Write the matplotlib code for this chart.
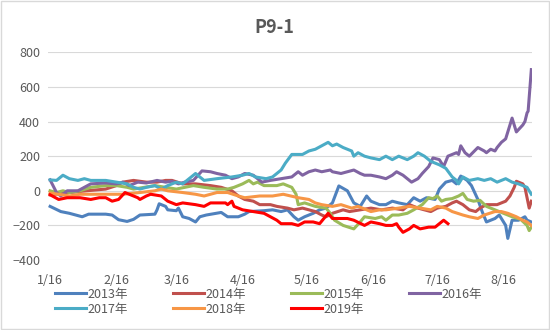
import matplotlib
matplotlib.use("Agg")
import matplotlib.pyplot as plt
from matplotlib.patches import Rectangle

plt.rcParams['font.family'] = ['Noto Sans CJK SC', 'DejaVu Sans']

# days counted from 1/16
tick_days = [0, 31, 59, 90, 120, 151, 181, 212]
tick_labels = ['1/16', '2/16', '3/16', '4/16', '5/16', '6/16', '7/16', '8/16']

d2013 = [0, 5, 9, 15, 18, 26, 29, 32, 36, 39, 42, 49, 50, 51, 54, 55, 59, 60, 62, 65,
         68, 70, 73, 80, 83, 88, 91, 93, 100, 104, 108, 111, 114, 116, 119, 123, 126, 129, 132, 135,
         139, 142, 145, 148, 150, 154, 157, 160, 163, 167, 170, 173, 176, 180, 182, 185, 188, 190, 192, 195,
         197, 200, 202, 204, 208, 210, 213, 214, 216, 219, 222, 223, 225]
v2013 = [-90, -120, -130, -150, -135, -135, -140, -167, -177, -165, -140, -135, -110, -75, -90, -110, -115, -100, -150, -160,
         -180, -150, -140, -125, -150, -150, -135, -120, -115, -110, -120, -110, -150, -170, -150, -130, -110, -100, -70, 28,
         0, -70, -90, -30, -60, -80, -80, -60, -70, -80, -40, -60, -40, -50, 10, 50, 60, 40, 85, 60,
         30, -50, -120, -180, -160, -140, -200, -275, -170, -170, -150, -170, -180]

d2014 = [0, 17, 26, 31, 34, 39, 45, 50, 54, 57, 62, 68, 75, 80, 85, 88, 91, 95, 98, 103,
         106, 111, 114, 118, 121, 124, 127, 129, 132, 137, 140, 145, 150, 155, 160, 165, 168, 172, 175, 178,
         181, 185, 188, 190, 193, 196, 199, 201, 204, 209, 213, 215, 217, 218, 219, 221, 222, 224, 225]
v2014 = [-23, 0, 10, 30, 50, 60, 50, 50, 60, 60, 40, 40, 30, 20, 0, -30, -50, -60, -80, -80,
         -90, -100, -110, -100, -110, -120, -140, -150, -130, -110, -120, -110, -100, -110, -100, -110, -80, -100, -110, -120,
         -100, -90, -70, -60, -80, -110, -120, -100, -80, -80, -60, -30, 20, 55, 50, 40, 20, -100, -60]

d2015 = [0, 3, 6, 9, 14, 19, 26, 31, 36, 39, 44, 49, 54, 59, 63, 67, 72, 78, 83, 86,
         90, 93, 95, 97, 100, 106, 109, 113, 115, 116, 119, 124, 129, 131, 133, 137, 142, 145, 147, 152,
         155, 157, 160, 163, 167, 170, 174, 177, 179, 181, 183, 185, 188, 191, 193, 195, 198, 201, 204, 208,
         212, 216, 220, 223, 224, 225]
v2015 = [0, -10, 0, -10, 0, 20, 30, 30, 20, 10, 20, 30, 20, 10, 20, 30, 20, 10, 10, 20,
         40, 60, 40, 50, 30, 30, 40, 20, -20, -80, -70, -90, -100, -130, -170, -200, -220, -180, -150, -160,
         -150, -170, -140, -140, -130, -110, -80, -40, -45, -30, -60, -50, -45, -30, -15, -50, -60, -55, -90, -110,
         -130, -150, -165, -200, -230, -210]

d2016 = [0, 3, 5, 8, 13, 16, 19, 26, 31, 34, 37, 41, 45, 50, 54, 57, 60, 63, 67, 71,
         75, 78, 82, 85, 88, 91, 95, 99, 103, 108, 113, 116, 118, 121, 124, 127, 131, 132, 136, 139,
         142, 145, 147, 150, 154, 157, 160, 162, 165, 167, 169, 172, 174, 177, 179, 182, 184, 186, 190, 191,
         192, 194, 196, 200, 203, 204, 206, 208, 209, 211, 213, 216, 218, 221, 222, 223, 223.5, 224, 225]
v2016 = [63, -10, -30, 0, 0, 20, 40, 45, 40, 50, 30, 50, 45, 60, 50, 55, 40, 50, 60, 115,
         110, 100, 90, 70, 80, 100, 90, 50, 60, 70, 80, 110, 90, 110, 120, 110, 120, 110, 100, 110,
         120, 100, 90, 90, 80, 70, 90, 110, 90, 70, 50, 70, 100, 140, 190, 180, 140, 200, 220, 210,
         260, 220, 200, 250, 230, 220, 240, 230, 250, 280, 300, 420, 340, 380, 400, 450, 460, 540, 700]

d2017 = [0, 3, 6, 9, 13, 16, 19, 26, 31, 36, 39, 42, 45, 49, 52, 55, 59, 62, 68, 72,
         78, 85, 90, 93, 96, 101, 104, 108, 110, 113, 118, 121, 124, 127, 130, 132, 134, 137, 141, 142,
         144, 147, 150, 154, 157, 160, 163, 167, 170, 172, 175, 178, 182, 185, 188, 190, 191, 193, 196, 200,
         203, 206, 209, 213, 216, 219, 223, 225]
v2017 = [63, 60, 90, 70, 60, 70, 60, 60, 50, 40, 20, 10, 20, 30, 10, 30, 50, 40, 100, 60,
         70, 80, 90, 100, 80, 70, 80, 120, 160, 210, 210, 230, 240, 260, 280, 260, 270, 250, 230, 200,
         220, 200, 190, 180, 200, 180, 200, 180, 200, 220, 200, 170, 150, 130, 80, 60, 40, 80, 60, 70,
         60, 70, 50, 70, 50, 40, 20, -20]

d2018 = [0, 4, 9, 14, 26, 34, 42, 49, 52, 55, 62, 68, 72, 78, 83, 88, 91, 98, 104, 109,
         116, 121, 124, 127, 132, 136, 141, 144, 150, 154, 157, 163, 168, 173, 178, 181, 185, 188, 193, 196,
         200, 203, 208, 211, 214, 218, 221, 223, 225]
v2018 = [-13, -20, -30, -20, -20, -20, -10, 0, 10, 0, -10, -20, -30, -10, -10, -30, -40, -30, -30, -20,
         -40, -50, -70, -80, -90, -80, -100, -90, -120, -110, -110, -100, -90, -100, -110, -90, -100, -120, -140, -150,
         -160, -140, -120, -120, -130, -150, -170, -180, -200]

d2019 = [0, 4, 8, 14, 19, 23, 26, 29, 32, 35, 37, 41, 42, 45, 47, 52, 55, 59, 62, 68,
         72, 75, 82, 83, 85, 86, 90, 95, 100, 103, 106, 108, 113, 116, 119, 123, 126, 130, 132, 139,
         142, 147, 150, 154, 157, 160, 162, 163, 165, 168, 170, 173, 177, 180, 182, 184, 186]
v2019 = [-23, -50, -40, -40, -50, -40, -40, -60, -50, -10, -20, -40, -50, -30, -20, -30, -60, -80, -70, -80,
         -90, -70, -70, -80, -60, -90, -110, -120, -130, -150, -170, -190, -190, -200, -180, -180, -190, -130, -160, -160,
         -170, -200, -180, -190, -200, -200, -190, -210, -240, -220, -200, -220, -210, -210, -190, -170, -190]

series = [
    ('2013年', d2013, v2013, '#4F81BD'),
    ('2014年', d2014, v2014, '#C0504D'),
    ('2015年', d2015, v2015, '#9BBB59'),
    ('2016年', d2016, v2016, '#8064A2'),
    ('2017年', d2017, v2017, '#4BACC6'),
    ('2018年', d2018, v2018, '#F79646'),
    ('2019年', d2019, v2019, '#FF0000'),
]

txt = '#595959'
fig = plt.figure(figsize=(5.5, 3.3), dpi=100)
ax = fig.add_axes([0.088, 0.212, 0.88, 0.6295])

lines = []
for name, d, v, c in series:
    ln, = ax.plot(d, v, color=c, lw=2.2, label=name, solid_joinstyle='round')
    lines.append(ln)

ax.set_xlim(-0.8, 225.5)
ax.set_ylim(-400, 800)
ax.set_yticks(range(-400, 801, 200))
ax.set_xticks(tick_days)
ax.set_xticklabels(tick_labels)
ax.grid(axis='y', color='#D9D9D9', lw=0.8)
ax.set_axisbelow(True)
for s in ax.spines.values():
    s.set_visible(False)
ax.tick_params(length=0, labelsize=9, colors=txt)
ax.tick_params(axis='x', pad=10)
ax.tick_params(axis='y', pad=6)

fig.text(0.498, 0.917, 'P9-1', ha='center', va='center', fontsize=13,
         fontweight='bold', color=txt)

# legend is filled row by row in the reference (4 per row)
order = [0, 4, 1, 5, 2, 6, 3]
leg = fig.legend([lines[i] for i in order], [series[i][0] for i in order],
                 loc='center left', bbox_to_anchor=(0.088, 0.086), ncol=4,
                 frameon=False, fontsize=9, handlelength=2.5, handletextpad=0.15,
                 columnspacing=3.55, borderpad=0, labelspacing=0.15)
for t in leg.get_texts():
    t.set_color(txt)

fig.patches.append(Rectangle((0.002, 0.003), 0.996, 0.994, transform=fig.transFigure,
                             fill=False, edgecolor='#D9D9D9', lw=1))

fig.savefig('out.png', dpi=100)
